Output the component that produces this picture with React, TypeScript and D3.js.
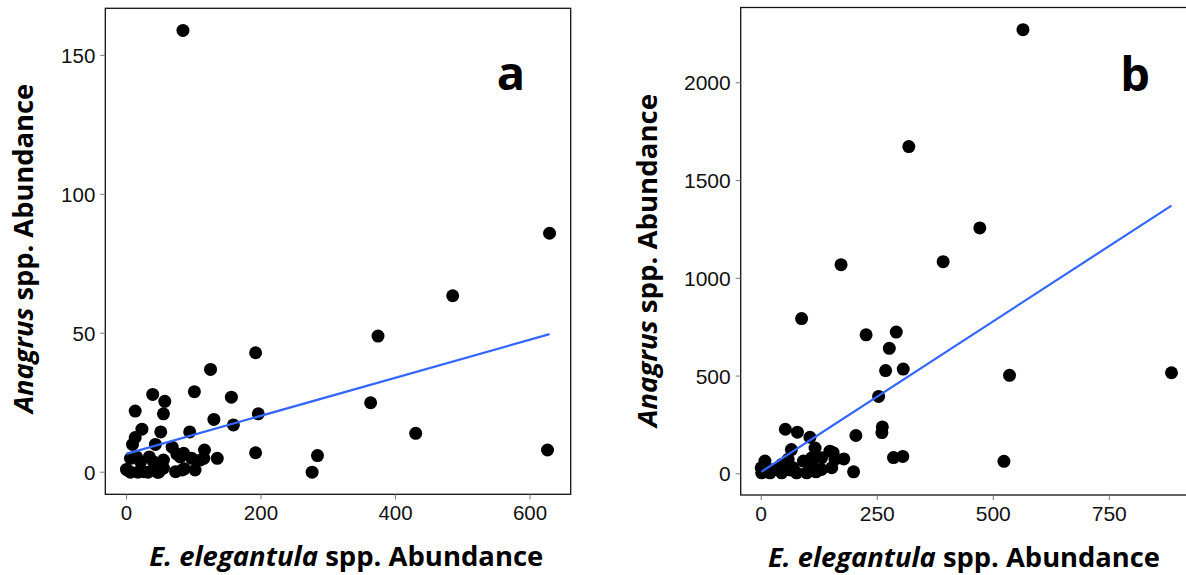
import React from "react";
import * as d3 from "d3";

// ---------- Data ----------
// Panel a: E. elegantula abundance (x) vs Anagrus abundance (y)
const elegA = [84, 629, 485, 374, 192, 125, 101, 39, 57, 156, 363, 13, 55, 196, 130, 430, 159, 94, 23, 51, 13, 9, 43, 626, 192, 116, 284, 276, 135, 68, 75, 97, 110, 6, 1, 26, 48, 73, 83, 102, 21, 40, 55, 85, 0, 6, 17, 32, 46, 55, 86, 15, 34, 80, 115];
const anagA = [159, 86, 63.5, 49, 43, 37, 29, 28, 25.5, 27, 25, 22, 21, 21, 19, 14, 17, 14.5, 15.5, 14.5, 12.5, 10, 10, 8, 7, 8, 6, 0, 5, 9, 6.5, 5, 4.4, 5, 0.8, 0.2, 0, 0.2, 0.8, 0.8, 3.8, 3.8, 4.4, 6.8, 1, 0, 0, 0, 0, 1.5, 1.2, 5.5, 5.5, 5.5, 5];
const fitAx = [0, 629];
const fitAy = [6.6, 49.7];
const ticksAx = [0, 200, 400, 600];
const ticksAy = [0, 50, 100, 150];

// Panel b
const elegB = [564, 318, 471, 392, 172, 87, 226, 291, 276, 268, 306, 535, 884, 253, 261, 260, 204, 52, 78, 105, 116, 285, 305, 523, 199, 178, 155, 65, 8, 0, 1, 26, 44, 58, 69, 91, 109, 130, 148, 76, 98, 130, 152, 109, 44, 19, 159, 12, 62, 118];
const anagB = [2272, 1674, 1258, 1085, 1070, 794, 711, 725, 642, 528, 536, 504, 517, 396, 240, 211, 196, 228, 213, 187, 132, 83, 89, 64, 10, 76, 108, 124, 65, 31, 5, 22, 48, 74, 31, 65, 48, 82, 116, 5, 5, 22, 31, 82, 5, 5, 74, 10, 20, 10];
const fitBx = [0, 884];
const fitBy = [10, 1372];
const ticksBx = [0, 250, 500, 750];
const ticksBy = [0, 500, 1000, 1500, 2000];

const xTitle = ["E. elegantula", " spp. Abundance"];
const yTitle = ["Anagrus", " spp. Abundance"];

// ---------- Panel ----------
type PanelProps = {
  xs: number[]; ys: number[]; fx: number[]; fy: number[];
  tx: number[]; ty: number[];
  box: { l: number; r: number; t: number; b: number };
  label: string; labelX: number; labelY: number;
  xTitleX: number; xTitleY: number; xTitleLen: number;
  yTitleX: number; yTitleY: number; yTitleLen: number;
  tickFont: number;
};

function expand(vals: number[]): [number, number] {
  const [mn, mx] = d3.extent(vals) as [number, number];
  const pad = (mx - mn) * 0.05;
  return [mn - pad, mx + pad];
}

const FONT_TITLE = "'Open Sans', Lato, sans-serif";
const FONT_TICK = "'Liberation Sans', Arial, sans-serif";

function Panel(p: PanelProps) {
  const x = d3.scaleLinear().domain(expand(p.xs)).range([p.box.l, p.box.r]);
  const y = d3.scaleLinear().domain(expand(p.ys)).range([p.box.b, p.box.t]);
  const line = d3.line<number>().x((_, i) => x(p.fx[i])).y((_, i) => y(p.fy[i]));
  const clipId = "clip-" + p.label;
  return (
    <g>
      <defs>
        <clipPath id={clipId}>
          <rect x={p.box.l} y={p.box.t} width={p.box.r - p.box.l} height={p.box.b - p.box.t} />
        </clipPath>
      </defs>
      <g clipPath={`url(#${clipId})`}>
        {p.xs.map((v, i) => (
          <circle key={i} cx={x(v)} cy={y(p.ys[i])} r={6.5} fill="#000" />
        ))}
        <path d={line(p.fx) || ""} fill="none" stroke="#3366FF" strokeWidth={2.2} />
        <text x={p.labelX} y={p.labelY} fontFamily={FONT_TITLE} fontWeight="bold" fontSize={47} textAnchor="middle" fill="#000">{p.label}</text>
      </g>
      <rect x={p.box.l} y={p.box.t} width={p.box.r - p.box.l} height={p.box.b - p.box.t} fill="none" stroke="#111" strokeWidth={1.3} />
      {p.tx.map((t) => (
        <g key={"x" + t}>
          <line x1={x(t)} x2={x(t)} y1={p.box.b} y2={p.box.b + 5} stroke="#777" strokeWidth={1} />
          <text x={x(t)} y={p.box.b + 26} textAnchor="middle" fontFamily={FONT_TICK} fontSize={p.tickFont} fill="#111">{t}</text>
        </g>
      ))}
      {p.ty.map((t) => (
        <g key={"y" + t}>
          <line x1={p.box.l - 5} x2={p.box.l} y1={y(t)} y2={y(t)} stroke="#777" strokeWidth={1} />
          <text x={p.box.l - 10} y={y(t) + p.tickFont * 0.36} textAnchor="end" fontFamily={FONT_TICK} fontSize={p.tickFont} fill="#111">{t}</text>
        </g>
      ))}
      <text x={p.xTitleX} y={p.xTitleY} textAnchor="middle" fontFamily={FONT_TITLE} fontWeight="bold" fontSize={26} fill="#000" textLength={p.xTitleLen} lengthAdjust="spacingAndGlyphs">
        <tspan fontStyle="italic">{xTitle[0]}</tspan>
        <tspan>{xTitle[1]}</tspan>
      </text>
      <text transform={`translate(${p.yTitleX},${p.yTitleY}) rotate(-90)`} textAnchor="middle" fontFamily={FONT_TITLE} fontWeight="bold" fontSize={26} fill="#000" textLength={p.yTitleLen} lengthAdjust="spacingAndGlyphs">
        <tspan fontStyle="italic">{yTitle[0]}</tspan>
        <tspan>{yTitle[1]}</tspan>
      </text>
    </g>
  );
}

export default function App() {
  return (
    <>
      <style>{`body{margin:0;background:#fff;}`}</style>
      <svg width={1186} height={575} style={{ display: "block", background: "#fff" }}>
        <Panel
          xs={elegA} ys={anagA} fx={fitAx} fy={fitAy} tx={ticksAx} ty={ticksAy}
          box={{ l: 105.3, r: 570.7, t: 8.3, b: 494.3 }}
          label="a" labelX={511} labelY={89.6}
          xTitleX={346.3} xTitleY={566} xTitleLen={394}
          yTitleX={33} yTitleY={248.5} yTitleLen={329}
          tickFont={20.5}
        />
        <Panel
          xs={elegB} ys={anagB} fx={fitBx} fy={fitBy} tx={ticksBx} ty={ticksBy}
          box={{ l: 740.7, r: 1192, t: 7.5, b: 495 }}
          label="b" labelX={1135} labelY={91}
          xTitleX={964} xTitleY={567} xTitleLen={392}
          yTitleX={657} yTitleY={260.5} yTitleLen={333}
          tickFont={21}
        />
      </svg>
    </>
  );
}
